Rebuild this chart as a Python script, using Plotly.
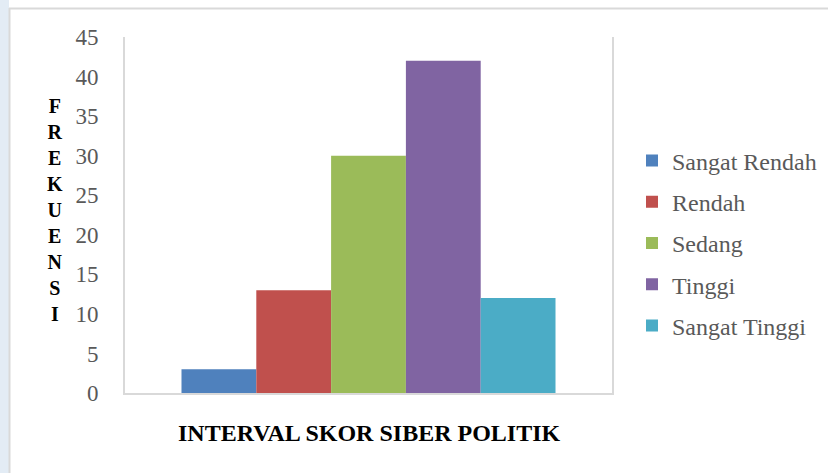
import plotly.graph_objects as go

categories = ["Sangat Rendah", "Rendah", "Sedang", "Tinggi", "Sangat Tinggi"]
values = [3, 13, 30, 42, 12]
colors = ["#4f81bd", "#c0504d", "#9bbb59", "#8064a2", "#4bacc6"]
y_ticks = [0, 5, 10, 15, 20, 25, 30, 35, 40, 45]
x_title = "INTERVAL SKOR SIBER POLITIK"
y_title = "FREKUENSI"

SERIF = "'Liberation Serif', 'Times New Roman', Times, serif"

W, H = 828, 473
L, R, T, B = 125, 216, 37, 80
pw, ph = W - L - R, H - T - B

fig = go.Figure()
for i, (name, v, c) in enumerate(zip(categories, values, colors)):
    fig.add_trace(go.Bar(x=[""], y=[v], name=name, marker=dict(color=c, line=dict(width=0)),
                         legendgroup=f"g{i}"))

def px_x(p):
    return (p - L) / pw

def px_y(p):
    return (H - B - p) / ph

fig.update_layout(
    width=W, height=H,
    margin=dict(l=L, r=R, t=T, b=B, pad=0, autoexpand=False),
    paper_bgcolor="white", plot_bgcolor="white",
    barmode="group", bargap=0.232, bargroupgap=0,
    showlegend=True,
    font=dict(family=SERIF),
    legend=dict(x=px_x(632), xanchor="left", y=px_y(243), yanchor="middle",
                font=dict(family=SERIF, size=24, color="#595959"),
                traceorder="grouped", tracegroupgap=7, bgcolor="rgba(0,0,0,0)"),
    xaxis=dict(showticklabels=False, showgrid=False, zeroline=False,
               showline=True, linecolor="#d9d9d9", linewidth=2, mirror=False, ticks=""),
    yaxis=dict(range=[0, 45], tickvals=y_ticks, showgrid=False, zeroline=False,
               showline=True, linecolor="#d9d9d9", linewidth=2, mirror=True, ticks="",
               ticklabelstandoff=20,
               tickfont=dict(family=SERIF, size=23, color="#595959")),
    annotations=[
        dict(text="<br>".join("<b>" + ch + "</b>" for ch in y_title), x=px_x(55), y=px_y(210),
             xref="paper", yref="paper",
             showarrow=False, xanchor="center", yanchor="middle", align="center",
             font=dict(family=SERIF, size=20, color="black")),
        dict(text="<b>" + x_title + "</b>", x=px_x(369), y=px_y(433), xref="paper", yref="paper",
             showarrow=False, xanchor="center", yanchor="middle",
             font=dict(family=SERIF, size=24, color="black")),
    ],
    shapes=[
        dict(type="rect", xref="paper", yref="paper", x0=px_x(0), x1=px_x(9), y0=px_y(473), y1=px_y(0),
             fillcolor="#e3ecf5", line=dict(width=0), layer="below"),
        dict(type="line", xref="paper", yref="paper", x0=px_x(9), x1=px_x(828), y0=px_y(8.5), y1=px_y(8.5),
             line=dict(color="#d9d9d9", width=2)),
        dict(type="line", xref="paper", yref="paper", x0=px_x(9.5), x1=px_x(9.5), y0=px_y(8), y1=px_y(473),
             line=dict(color="#d9d9d9", width=2)),
    ],
)

fig.write_html("out.html")
